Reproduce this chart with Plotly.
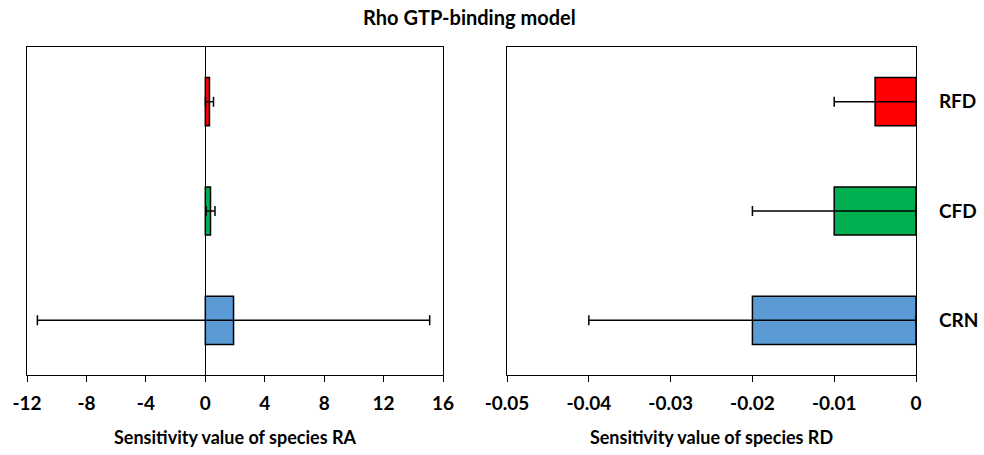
import plotly.graph_objects as go
from plotly.subplots import make_subplots

categories = ["CRN", "CFD", "RFD"]
colors = ["#5B9BD5", "#00B050", "#FF0000"]

ra_values = [1.9, 0.35, 0.28]
ra_errors = [13.2, 0.3, 0.27]

rd_values = [-0.02, -0.01, -0.005]
rd_errors = [0.02, 0.01, 0.005]

ra_ticks = [-12, -8, -4, 0, 4, 8, 12, 16]
ra_ticktext = ["-12", "-8", "-4", "0", "4", "8", "12", "16"]
rd_ticks = [-0.05, -0.04, -0.03, -0.02, -0.01, 0]
rd_ticktext = ["-0.05", "-0.04", "-0.03", "-0.02", "-0.01", "0"]

FONT = "Lato"

fig = make_subplots(rows=1, cols=2)

fig.add_trace(go.Bar(
    y=categories, x=ra_values, orientation="h",
    marker=dict(color=colors, line=dict(color="black", width=1.5)),
    width=0.44,
    error_x=dict(type="data", array=ra_errors, visible=True, color="black", thickness=1.5, width=5),
    showlegend=False, hoverinfo="skip",
), row=1, col=1)

fig.add_trace(go.Bar(
    y=categories, x=rd_values, orientation="h",
    marker=dict(color=colors, line=dict(color="black", width=1.5)),
    width=0.44,
    error_x=dict(type="data", array=rd_errors, visible=True, color="black", thickness=1.5, width=5),
    showlegend=False, hoverinfo="skip",
), row=1, col=2)

axis_common = dict(showline=True, linecolor="black", linewidth=1.2, mirror=True,
                   showgrid=False, ticks="outside", ticklen=6, tickcolor="black",
                   automargin=False, ticklabelstandoff=5,
                   tickfont=dict(family=FONT, size=19, color="black", weight="bold"))
title_font = dict(family=FONT, size=18, color="black", weight="bold")

fig.update_xaxes(**axis_common, range=[-12, 16], tickvals=ra_ticks, ticktext=ra_ticktext,
                 zeroline=True, zerolinecolor="black", zerolinewidth=1.2,
                 domain=[0, 0.468],
                 title=dict(text="Sensitivity value of species RA", font=title_font, standoff=18),
                 row=1, col=1)
fig.update_xaxes(**axis_common, range=[-0.05, 0], tickvals=rd_ticks, ticktext=rd_ticktext,
                 zeroline=False, domain=[0.54, 1],
                 title=dict(text="Sensitivity value of species RD", font=title_font, standoff=18),
                 row=1, col=2)

fig.update_yaxes(showline=True, linecolor="black", linewidth=1.2, mirror=True,
                 showgrid=False, showticklabels=False, ticks="", automargin=False,
                 range=[-0.5, 2.5], row=1, col=1)
fig.update_yaxes(showline=True, linecolor="black", linewidth=1.2, mirror=True,
                 showgrid=False, ticks="", side="right", ticklabelstandoff=18, automargin=False,
                 tickfont=dict(family=FONT, size=19, color="black", weight="bold"),
                 range=[-0.5, 2.5], row=1, col=2)

fig.update_layout(
    width=984, height=455,
    margin=dict(l=27, r=68, t=47, b=80),
    plot_bgcolor="white", paper_bgcolor="white",
    title=dict(text="Rho GTP-binding model", x=0.477, xanchor="center", y=0.96, yanchor="middle",
               font=dict(family=FONT, size=20, color="black", weight="bold")),
)

fig.write_html("out.html", config={"displayModeBar": False},
               post_script="document.body.style.margin='0';")
